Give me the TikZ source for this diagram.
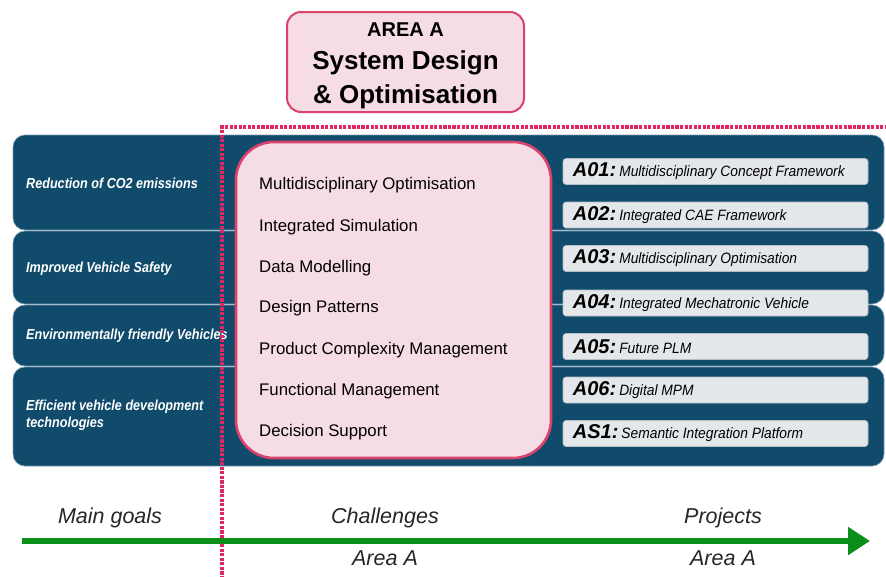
\documentclass[tikz,border=0pt]{standalone}
\usepackage{fontspec}
\setmainfont{Liberation Sans}
\usepackage{graphicx}
\usetikzlibrary{arrows.meta}
\definecolor{bandblue}{RGB}{17,75,107}
\definecolor{bandline}{RGB}{120,155,178}
\definecolor{pinkfill}{RGB}{246,220,228}
\definecolor{pinkdraw}{RGB}{217,66,107}
\definecolor{dotpink}{RGB}{222,40,95}
\definecolor{projfill}{RGB}{228,231,234}
\definecolor{projdraw}{RGB}{180,188,196}
\definecolor{arrowgreen}{RGB}{12,142,26}
\newcommand\projlabel[2]{{\fontsize{20}{20}\selectfont\bfseries\itshape #1:}\kern3pt{\fontsize{15}{15}\selectfont\itshape\scalebox{0.92}[1]{#2}}}
\newcommand\goallabel[1]{\scalebox{0.87}[1]{#1}}
\begin{document}
\begin{tikzpicture}[x=1pt,y=-1pt,
  band/.style={fill=bandblue, draw=bandline, line width=0.6pt, rounded corners=12pt, inner sep=0pt},
  pinkbox/.style={fill=pinkfill, draw=pinkdraw, line width=2.6pt, inner sep=0pt},
  projbox/.style={fill=projfill, draw=projdraw, line width=0.6pt, rounded corners=3pt, minimum width=305pt, minimum height=26pt, inner sep=0pt},
  goal/.style={anchor=west, text=white, font=\fontsize{14.5}{17}\selectfont\bfseries\itshape, align=left, inner sep=0pt},
  chal/.style={anchor=west, font=\fontsize{16.8}{17}\selectfont, inner sep=0pt},
  projtext/.style={anchor=west, inner sep=0pt},
  dotsq/.style={fill=dotpink},
  axislabel/.style={font=\fontsize{21.5}{22}\selectfont\itshape, text=black!85, inner sep=0pt}
]
\useasboundingbox (0,0) rectangle (886,576);
\fill[white] (0,0) rectangle (886,576);

% bands
\node[band, minimum width=871pt, minimum height=95pt] (b1) at (448.5,182.5) {};
\node[band, minimum width=871pt, minimum height=73pt] (b2) at (448.5,267.5) {};
\node[band, minimum width=871pt, minimum height=61pt] (b3) at (448.5,335.5) {};
\node[band, minimum width=871pt, minimum height=99pt] (b4) at (448.5,416.5) {};

% goal labels
\node[goal] (g1) at (26,183) {\goallabel{Reduction of CO2 emissions}};
\node[goal] (g2) at (26,269) {\goallabel{Improved Vehicle Safety}};
\node[goal] (g3) at (26,336) {\goallabel{Environmentally friendly Vehicles}};
\node[goal] (g4) at (26,415) {\goallabel{Efficient vehicle development}\\\goallabel{technologies}};

% challenges box
\node[pinkbox, rounded corners=38pt, minimum width=315pt, minimum height=316pt] (chbox) at (393.5,300) {};
\node[chal] (c1) at (259,185) {Multidisciplinary Optimisation};
\node[chal] (c2) at (259,227) {Integrated Simulation};
\node[chal] (c3) at (259,268) {Data Modelling};
\node[chal] (c4) at (259,308) {Design Patterns};
\node[chal] (c5) at (259,350) {Product Complexity Management};
\node[chal] (c6) at (259,391) {Functional Management};
\node[chal] (c7) at (259,432) {Decision Support};

% project boxes
\node[projbox] (p1) at (715.5,171.5) {};
\node[projbox] (p2) at (715.5,215) {};
\node[projbox] (p3) at (715.5,258.5) {};
\node[projbox] (p4) at (715.5,303) {};
\node[projbox] (p5) at (715.5,346.5) {};
\node[projbox] (p6) at (715.5,390) {};
\node[projbox] (p7) at (715.5,433.5) {};
\node[projtext] (t1) at ([xshift=10pt]p1.west) {\projlabel{A01}{Multidisciplinary Concept Framework}};
\node[projtext] (t2) at ([xshift=10pt]p2.west) {\projlabel{A02}{Integrated CAE Framework}};
\node[projtext] (t3) at ([xshift=10pt]p3.west) {\projlabel{A03}{Multidisciplinary Optimisation}};
\node[projtext] (t4) at ([xshift=10pt]p4.west) {\projlabel{A04}{Integrated Mechatronic Vehicle}};
\node[projtext] (t5) at ([xshift=10pt]p5.west) {\projlabel{A05}{Future PLM}};
\node[projtext] (t6) at ([xshift=10pt]p6.west) {\projlabel{A06}{Digital MPM}};
\node[projtext] (t7) at ([xshift=10pt]p7.west) {\projlabel{AS1}{Semantic Integration Platform}};

% title box
\node[pinkbox, line width=2pt, rounded corners=14pt, minimum width=237pt, minimum height=100pt] (title) at (405.5,62) {};
\node[font=\fontsize{20}{20}\selectfont\bfseries, inner sep=0pt] (t0) at (405.5,30) {AREA A};
\node[font=\fontsize{26}{26}\selectfont\bfseries, inner sep=0pt, align=center] (tt) at (405.5,79.5) {System Design\\[8pt]\& Optimisation};

% dotted boundary (square dots)
\foreach \i in {0,...,146} {
  \fill[dotsq] (222+4.55*\i-1.6,127-1.6) rectangle ++(3.2,3.2);
}
\foreach \i in {1,...,99} {
  \fill[dotsq] (222-1.6,127+4.55*\i-1.6) rectangle ++(3.2,3.2);
}

% bottom arrow
\coordinate (as) at (22,541);
\coordinate (ae) at (870,541);
\draw[arrowgreen, line width=6pt, -{Triangle[length=22pt,width=27pt]}] (as) -- (ae);
\node[axislabel] (l1) at (110,518) {Main goals};
\node[axislabel] (l2) at (385,518) {Challenges};
\node[axislabel] (l3) at (723,518) {Projects};
\node[axislabel] (l4) at (385,558) {Area A};
\node[axislabel] (l5) at (723,558) {Area A};
\end{tikzpicture}
\end{document}
